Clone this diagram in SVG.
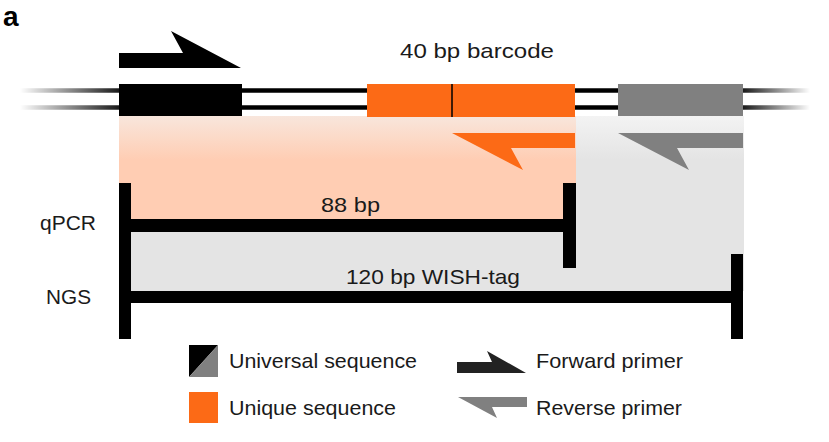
<svg xmlns="http://www.w3.org/2000/svg" width="829" height="442" viewBox="0 0 829 442">
  <style>
    text { font-family: "Liberation Sans", Arial, sans-serif; font-size: 21px; fill: #1a1a1a; }
    .bar { fill: #000; }
    .orange { fill: #FC6A16; }
    .grey { fill: #808080; }
  </style>
  <defs>
    <linearGradient id="fadeL" x1="20" y1="0" x2="119" y2="0" gradientUnits="userSpaceOnUse">
      <stop offset="0" stop-color="#000" stop-opacity="0"/>
      <stop offset="1" stop-color="#000" stop-opacity="0.9"/>
    </linearGradient>
    <linearGradient id="fadeR" x1="743" y1="0" x2="810" y2="0" gradientUnits="userSpaceOnUse">
      <stop offset="0" stop-color="#000" stop-opacity="0.9"/>
      <stop offset="1" stop-color="#000" stop-opacity="0"/>
    </linearGradient>
    <linearGradient id="peach" x1="0" y1="116" x2="0" y2="160" gradientUnits="userSpaceOnUse">
      <stop offset="0" stop-color="#F8E6DC"/>
      <stop offset="1" stop-color="#FFCDB3"/>
    </linearGradient>
    <linearGradient id="greyFill" x1="0" y1="116" x2="0" y2="160" gradientUnits="userSpaceOnUse">
      <stop offset="0" stop-color="#F3F3F3"/>
      <stop offset="1" stop-color="#E4E4E4"/>
    </linearGradient>
  </defs>

  <text x="3" y="26" style="font-weight:bold;font-size:28px;fill:#000">a</text>

  <!-- amplicon regions -->
  <g id="regions">
    <rect x="119" y="116" width="625" height="175" fill="url(#greyFill)"/>
    <rect x="119" y="116" width="457" height="103" fill="url(#peach)"/>
  </g>

  <!-- DNA strands (connectors) -->
  <g id="connectors" stroke-width="4.5">
    <line x1="20" y1="90.5" x2="119" y2="90.5" stroke="url(#fadeL)"/>
    <line x1="20" y1="107.5" x2="119" y2="107.5" stroke="url(#fadeL)"/>
    <line x1="242" y1="90.5" x2="367" y2="90.5" stroke="#000"/>
    <line x1="242" y1="107.5" x2="367" y2="107.5" stroke="#000"/>
    <line x1="575" y1="90.5" x2="618" y2="90.5" stroke="#000"/>
    <line x1="575" y1="107.5" x2="618" y2="107.5" stroke="#000"/>
    <line x1="743" y1="90.5" x2="810" y2="90.5" stroke="url(#fadeR)"/>
    <line x1="743" y1="107.5" x2="810" y2="107.5" stroke="url(#fadeR)"/>
  </g>

  <g id="universal-left">
    <rect x="119" y="84" width="123" height="32" fill="#000"/>
  </g>
  <g id="barcode">
    <rect x="367" y="84" width="208" height="33" class="orange"/>
    <line x1="452" y1="84" x2="452" y2="117" stroke="#000" stroke-width="1.5"/>
    <text x="400" y="58" textLength="154" lengthAdjust="spacingAndGlyphs">40 bp barcode</text>
  </g>
  <g id="universal-right">
    <rect x="618" y="84" width="125" height="32" class="grey"/>
  </g>

  <g id="forward-primer">
    <polygon points="119,53 183,53 171,31 241,68 119,68" fill="#000"/>
  </g>
  <g id="reverse-primer-qpcr">
    <polygon points="452,133 575,133 575,148 511,148 523,170" class="orange"/>
  </g>
  <g id="reverse-primer-ngs">
    <polygon points="618,133 743,133 743,148 677,148 689,170" class="grey"/>
  </g>

  <g id="qpcr-amplicon">
    <rect x="119" y="183" width="12" height="156" class="bar"/>
    <rect x="119" y="219" width="457" height="13" class="bar"/>
    <rect x="563" y="183" width="13" height="85" class="bar"/>
    <text x="321" y="212" textLength="59" lengthAdjust="spacingAndGlyphs">88 bp</text>
    <text x="40" y="230" textLength="56" lengthAdjust="spacingAndGlyphs">qPCR</text>
  </g>
  <g id="ngs-amplicon">
    <rect x="119" y="291" width="624" height="12" class="bar"/>
    <rect x="731" y="254" width="12" height="85" class="bar"/>
    <text x="346" y="284" textLength="174" lengthAdjust="spacingAndGlyphs">120 bp WISH-tag</text>
    <text x="46" y="304" textLength="45" lengthAdjust="spacingAndGlyphs">NGS</text>
  </g>

  <g id="legend-universal">
    <polygon points="189,345 218,345 189,377" fill="#000"/>
    <polygon points="218,345 218,377 189,377" class="grey"/>
    <text x="229" y="368" textLength="188" lengthAdjust="spacingAndGlyphs">Universal sequence</text>
  </g>
  <g id="legend-unique">
    <rect x="189" y="392" width="29" height="31" class="orange"/>
    <text x="229" y="415" textLength="167" lengthAdjust="spacingAndGlyphs">Unique sequence</text>
  </g>
  <g id="legend-forward">
    <polygon points="457,362 492,362 487,351 526,373 457,373" fill="#222"/>
    <text x="536" y="368" textLength="147" lengthAdjust="spacingAndGlyphs">Forward primer</text>
  </g>
  <g id="legend-reverse">
    <polygon points="458,397 527,397 527,407 492,407 497,418" class="grey"/>
    <text x="536" y="415" textLength="146" lengthAdjust="spacingAndGlyphs">Reverse primer</text>
  </g>
</svg>
